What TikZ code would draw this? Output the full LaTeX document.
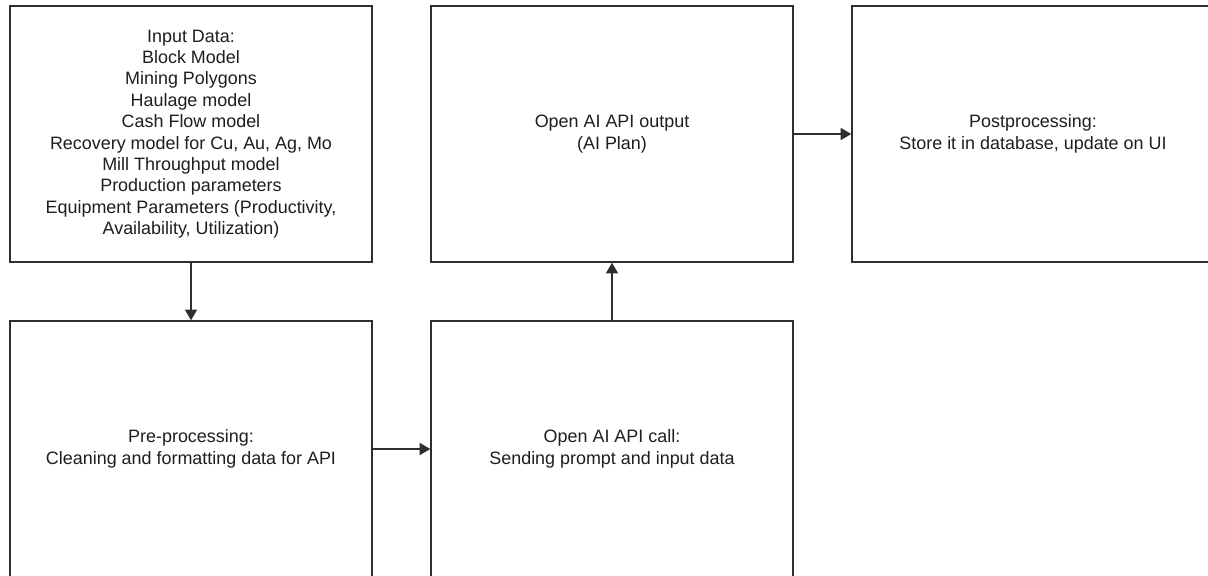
\documentclass[tikz,border=0pt]{standalone}
\usepackage{fontspec}
\setmainfont{Liberation Sans}
\usetikzlibrary{arrows.meta}
\definecolor{linec}{HTML}{2E2E2E}
\definecolor{textc}{HTML}{1E1E1E}
\tikzset{
  x=0.025cm, y=-0.025cm,
  box/.style={draw=linec, line width=1pt, fill=none, minimum width=9.05cm, minimum height=6.4cm,
    inner sep=0pt, align=center, text=textc, font=\fontsize{12.75}{15.2}\selectfont},
  conn/.style={draw=linec, line width=1pt, -{Triangle[length=7.5pt,width=8.5pt]}}
}
\begin{document}
\begin{tikzpicture}
\useasboundingbox[clip] (0,0) rectangle (1208,575);
\fill[white] (0,0) rectangle (1208,575);
\node[box] (input) at (191,134) {Input Data:\\Block Model\\Mining Polygons\\Haulage model\\Cash Flow model\\Recovery model for Cu, Au, Ag, Mo\\Mill Throughput model\\Production parameters\\Equipment Parameters (Productivity,\\Availability, Utilization)};
\node[box] (output) at (612,134) {Open AI API output\\(AI Plan)};
\node[box] (post) at (1033,134) {Postprocessing:\\Store it in database, update on UI};
\node[box] (pre) at (191,449) {Pre-processing:\\Cleaning and formatting data for API};
\node[box] (call) at (612,449) {Open AI API call:\\Sending prompt and input data};
\draw[conn] (input.south) -- (pre.north);
\draw[conn] (pre.east) -- (call.west);
\draw[conn] (call.north) -- (output.south);
\draw[conn] (output.east) -- (post.west);
\end{tikzpicture}
\end{document}
